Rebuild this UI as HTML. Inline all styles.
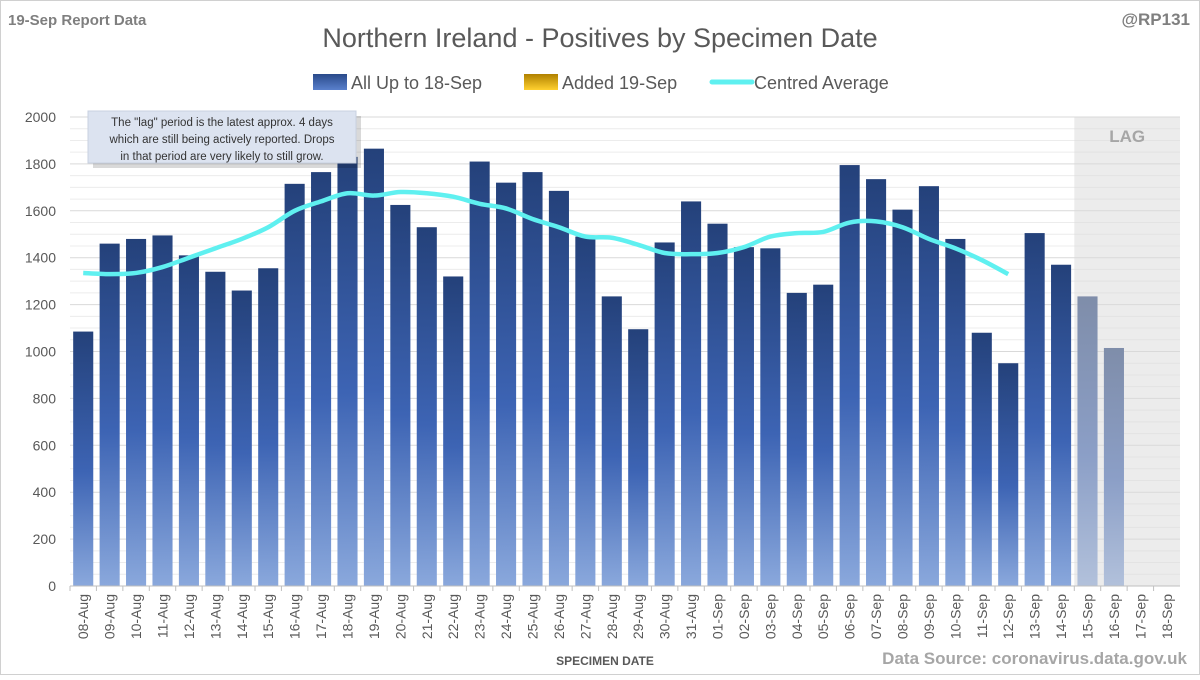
<!DOCTYPE html>
<html><head><meta charset="utf-8"><style>
body{margin:0;background:#fff;}
svg text{font-family:"Liberation Sans",sans-serif;}
</style></head><body>
<svg width="1200" height="675" viewBox="0 0 1200 675" xmlns="http://www.w3.org/2000/svg">
<defs>
<linearGradient id="bg" x1="0" y1="0" x2="0" y2="1">
<stop offset="0" stop-color="#24417a"/><stop offset="0.55" stop-color="#3d64b4"/><stop offset="1" stop-color="#8aa8dc"/>
</linearGradient>
<linearGradient id="lg1" x1="0" y1="0" x2="0" y2="1"><stop offset="0" stop-color="#2a4a8a"/><stop offset="1" stop-color="#5a80cc"/></linearGradient>
<linearGradient id="lg2" x1="0" y1="0" x2="0" y2="1"><stop offset="0" stop-color="#b08000"/><stop offset="1" stop-color="#ffd030"/></linearGradient>
</defs>
<rect x="0.5" y="0.5" width="1199" height="674" fill="#fff" stroke="#d0d0d0"/>
<text x="8" y="25" font-size="15" font-weight="bold" fill="#7f7f7f">19-Sep Report Data</text>
<text x="1190" y="25" font-size="17" font-weight="bold" fill="#7f7f7f" text-anchor="end">@RP131</text>
<text x="600" y="47" font-size="27" fill="#595959" text-anchor="middle">Northern Ireland - Positives by Specimen Date</text>
<g>
<rect x="313" y="74" width="34" height="16" fill="url(#lg1)"/>
<text x="351" y="89" font-size="18" fill="#595959">All Up to 18-Sep</text>
<rect x="524" y="74" width="34" height="16" fill="url(#lg2)"/>
<text x="562" y="89" font-size="18" fill="#595959">Added 19-Sep</text>
<line x1="712" y1="82" x2="752" y2="82" stroke="#5ff0f0" stroke-width="5" stroke-linecap="round"/>
<text x="754" y="89" font-size="18" fill="#595959">Centred Average</text>
</g>
<g id="grid"></g>
<g id="bars"></g>
<g id="lag"></g>
<path id="avg" fill="none" stroke="#5ff0f0" stroke-width="4.5" stroke-linejoin="round"/>
<g id="axes"></g>
<g>
<rect x="90" y="113" width="268" height="52" fill="#000" opacity="0.15" transform="translate(3,3)"/>
<rect x="88" y="111" width="268" height="52" fill="#dce3f0" stroke="#c8d0e0"/>
<text x="222" y="126" font-size="11.5" fill="#333" text-anchor="middle">The "lag" period is the latest approx. 4 days</text>
<text x="222" y="143" font-size="11.5" fill="#333" text-anchor="middle">which are still being actively reported.  Drops</text>
<text x="222" y="160" font-size="11.5" fill="#333" text-anchor="middle">in that period are very likely to still grow.</text>
</g>
<text x="605" y="665" font-size="12" font-weight="bold" fill="#595959" text-anchor="middle">SPECIMEN DATE</text>
<text x="1187" y="664" font-size="17" font-weight="bold" fill="#a6a6a6" text-anchor="end">Data Source: coronavirus.data.gov.uk</text>
</svg>
<script>
const categories=["08-Aug","09-Aug","10-Aug","11-Aug","12-Aug","13-Aug","14-Aug","15-Aug","16-Aug","17-Aug","18-Aug","19-Aug","20-Aug","21-Aug","22-Aug","23-Aug","24-Aug","25-Aug","26-Aug","27-Aug","28-Aug","29-Aug","30-Aug","31-Aug","01-Sep","02-Sep","03-Sep","04-Sep","05-Sep","06-Sep","07-Sep","08-Sep","09-Sep","10-Sep","11-Sep","12-Sep","13-Sep","14-Sep","15-Sep","16-Sep","17-Sep","18-Sep"];
const positives=[1085,1460,1480,1495,1410,1340,1260,1355,1715,1765,1830,1865,1625,1530,1320,1810,1720,1765,1685,1490,1235,1095,1465,1640,1545,1445,1440,1250,1285,1795,1735,1605,1705,1480,1080,950,1505,1370,1235,1015,0,0];
const added=[0,0,0,0,0,0,0,0,0,0,0,0,0,0,0,0,0,0,0,0,0,0,0,0,0,0,0,0,0,0,0,0,0,0,0,0,0,0,0,0,0,0];
const average=[1335,1330,1335,1360,1400,1440,1480,1530,1600,1640,1675,1665,1680,1675,1660,1630,1610,1565,1530,1490,1485,1455,1420,1415,1420,1445,1490,1505,1510,1550,1555,1530,1480,1440,1390,1330];
const yTicks=[0,200,400,600,800,1000,1200,1400,1600,1800,2000];
const lagDays=4;
const NS="http://www.w3.org/2000/svg";
const L=70,R=1180,T=117,B=586,yMax=2000;
const bw=(R-L)/categories.length;
const y=v=>B-(v/yMax)*(B-T);
const x=i=>L+bw*(i+0.5);
function mk(tag,attrs,parent){const e=document.createElementNS(NS,tag);for(const k in attrs)e.setAttribute(k,attrs[k]);document.getElementById(parent).appendChild(e);return e;}
for(let v=0;v<=yMax;v+=50){
 const g=mk('line',{x1:L,x2:R,y1:y(v),y2:y(v),stroke:v%200===0?'#d9d9d9':'#ececec','stroke-width':1},'grid');
 
 
}
yTicks.forEach(v=>{
 const t=mk('text',{x:L-14,y:y(v)+5,'font-size':14,fill:'#595959','text-anchor':'end'},'axes');
 t.textContent=v;
 
 
});
positives.forEach((v,i)=>{
 if(v<=0)return;
 const r=mk('rect',{x:x(i)-bw*0.38,width:bw*0.76,y:y(v),height:B-y(v),fill:'url(#bg)'},'bars');
 
 
 if(added[i]>0){
  const a=mk('rect',{x:x(i)-bw*0.38,width:bw*0.76,y:y(v+added[i]),height:y(v)-y(v+added[i]),fill:'url(#lg2)'},'bars');
  
  
 }
});
const lx=L+bw*(categories.length-lagDays);
const lr=mk('rect',{x:lx,y:T,width:R-lx,height:B-T,fill:'#d9d9d9',opacity:0.5},'lag');


const lt=mk('text',{x:(lx+R)/2,y:T+25,'font-size':17,'font-weight':'bold',fill:'#a6a6a6','text-anchor':'middle'},'lag');
lt.textContent='LAG';


// smooth avg line
const pts=average.map((v,i)=>[x(i),y(v)]);
let d='M'+pts[0][0]+','+pts[0][1];
for(let i=0;i<pts.length-1;i++){
 const p0=pts[i-1]||pts[i],p1=pts[i],p2=pts[i+1],p3=pts[i+2]||p2;
 d+=' C'+(p1[0]+(p2[0]-p0[0])/6)+','+(p1[1]+(p2[1]-p0[1])/6)+' '+(p2[0]-(p3[0]-p1[0])/6)+','+(p2[1]-(p3[1]-p1[1])/6)+' '+p2[0]+','+p2[1];
}
document.getElementById('avg').setAttribute('d',d);
const ax=mk('line',{x1:L,x2:R,y1:B,y2:B,stroke:'#bfbfbf'},'axes');


categories.forEach((c,i)=>{
 mk('line',{x1:L+bw*i,x2:L+bw*i,y1:B,y2:B+5,stroke:'#bfbfbf'},'axes');
 const t=mk('text',{transform:`translate(${x(i)+5},${B+8}) rotate(-90)`,'font-size':14,fill:'#595959','text-anchor':'end'},'axes');
 t.textContent=c;
 
 
});
</script>
</body></html>
